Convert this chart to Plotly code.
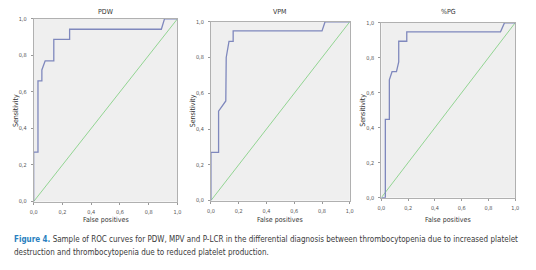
import plotly.graph_objects as go

# ---- data ----
pdw_fpr = [0, 0, 0.03, 0.03, 0.057, 0.057, 0.08, 0.14, 0.14, 0.25, 0.25, 0.888, 0.91, 1.0]
pdw_tpr = [0, 0.27, 0.27, 0.66, 0.66, 0.72, 0.77, 0.77, 0.887, 0.887, 0.943, 0.943, 1.0, 1.0]

vpm_fpr = [0, 0, 0.055, 0.055, 0.107, 0.11, 0.13, 0.16, 0.16, 0.80, 0.822, 1.0]
vpm_tpr = [0, 0.27, 0.27, 0.50, 0.557, 0.80, 0.89, 0.89, 0.949, 0.949, 1.0, 1.0]

pg_fpr = [0, 0.03, 0.03, 0.06, 0.06, 0.08, 0.113, 0.13, 0.13, 0.19, 0.19, 0.89, 0.92, 1.0]
pg_tpr = [0, 0, 0.447, 0.447, 0.674, 0.72, 0.72, 0.776, 0.894, 0.894, 0.948, 0.948, 1.0, 1.0]

ref_line = [0, 1]
titles = ["PDW", "VPM", "%PG"]
tick_vals = [0, 0.2, 0.4, 0.6, 0.8, 1.0]
tick_text = ["0,0", "0,2", "0,4", "0,6", "0,8", "1,0"]
caption_1 = ("<b><span style='color:#2a7fc0'>Figure 4.</span></b> Sample of ROC curves for PDW, MPV and "
             "P-LCR in the differential diagnosis between thrombocytopenia due to increased platelet")
caption_2 = "destruction and thrombocytopenia due to reduced platelet production."

# page body has an 8px margin: work in reference pixel coords and shift
OFF = 8
W, H = 536 - OFF, 270 - OFF
boxes = [(30, 176, 16, 203), (210, 351, 19, 202), (383, 519, 20, 199)]
curves = [(pdw_fpr, pdw_tpr), (vpm_fpr, vpm_tpr), (pg_fpr, pg_tpr)]


def px(x):
    return (x - OFF) / W


def py(y):
    return 1 - (y - OFF) / H


FONT = "Liberation Sans Narrow, DejaVu Sans Condensed, Liberation Sans, sans-serif"
fig = go.Figure()
annotations = []
for i, ((x0, x1, y0, y1), (fx, fy)) in enumerate(zip(boxes, curves)):
    n = "" if i == 0 else str(i + 1)
    xa, ya = "x" + n, "y" + n
    fig.add_trace(go.Scatter(x=ref_line, y=ref_line, mode="lines", xaxis=xa, yaxis=ya,
                             line=dict(color="#92d492", width=1), showlegend=False))
    fig.add_trace(go.Scatter(x=fx, y=fy, mode="lines", xaxis=xa, yaxis=ya,
                             line=dict(color="#7f88bd", width=1.3), showlegend=False))
    axis_common = dict(range=[0, 1], tickvals=tick_vals, ticktext=tick_text, showgrid=False,
                       zeroline=False, showline=True, linecolor="#b0b0b0", linewidth=1, mirror=True,
                       ticks="outside", ticklen=2, tickcolor="#999999",
                       tickfont=dict(size=5.5, color="#555555", family=FONT))
    fig.update_layout(**{
        "xaxis" + n: dict(domain=[px(x0), px(x1)], anchor=ya, ticklabelstandoff=3, **axis_common),
        "yaxis" + n: dict(domain=[py(y1), py(y0)], anchor=xa, ticklabelstandoff=3, **axis_common),
    })
    cx = (x0 + x1) / 2
    annotations.append(dict(text=titles[i], x=px(cx), y=py(9), xref="paper", yref="paper",
                            xanchor="center", yanchor="middle",
                            showarrow=False, font=dict(size=7, color="#333333", family=FONT)))
    annotations.append(dict(text="False positives", x=px(cx), y=py(222), xref="paper", yref="paper",
                            xanchor="center", yanchor="middle",
                            showarrow=False, font=dict(size=7, color="#333333", family=FONT)))
    annotations.append(dict(text="Sensitivity", x=px(x0 - 18), y=py((y0 + y1) / 2),
                            xref="paper", yref="paper", textangle=-90,
                            xanchor="center", yanchor="middle",
                            showarrow=False, font=dict(size=7, color="#333333", family=FONT)))

for txt, yc in [(caption_1, 242), (caption_2, 255)]:
    annotations.append(dict(
        text=txt, x=0, y=py(yc), xref="paper", yref="paper", xanchor="left", yanchor="middle",
        align="left", showarrow=False, font=dict(size=8, color="#3a3a3a", family=FONT)))

fig.update_layout(width=W, height=H, margin=dict(l=0, r=0, t=0, b=0),
                  paper_bgcolor="white", plot_bgcolor="#efefef",
                  annotations=annotations)

fig.write_html("out.html")
